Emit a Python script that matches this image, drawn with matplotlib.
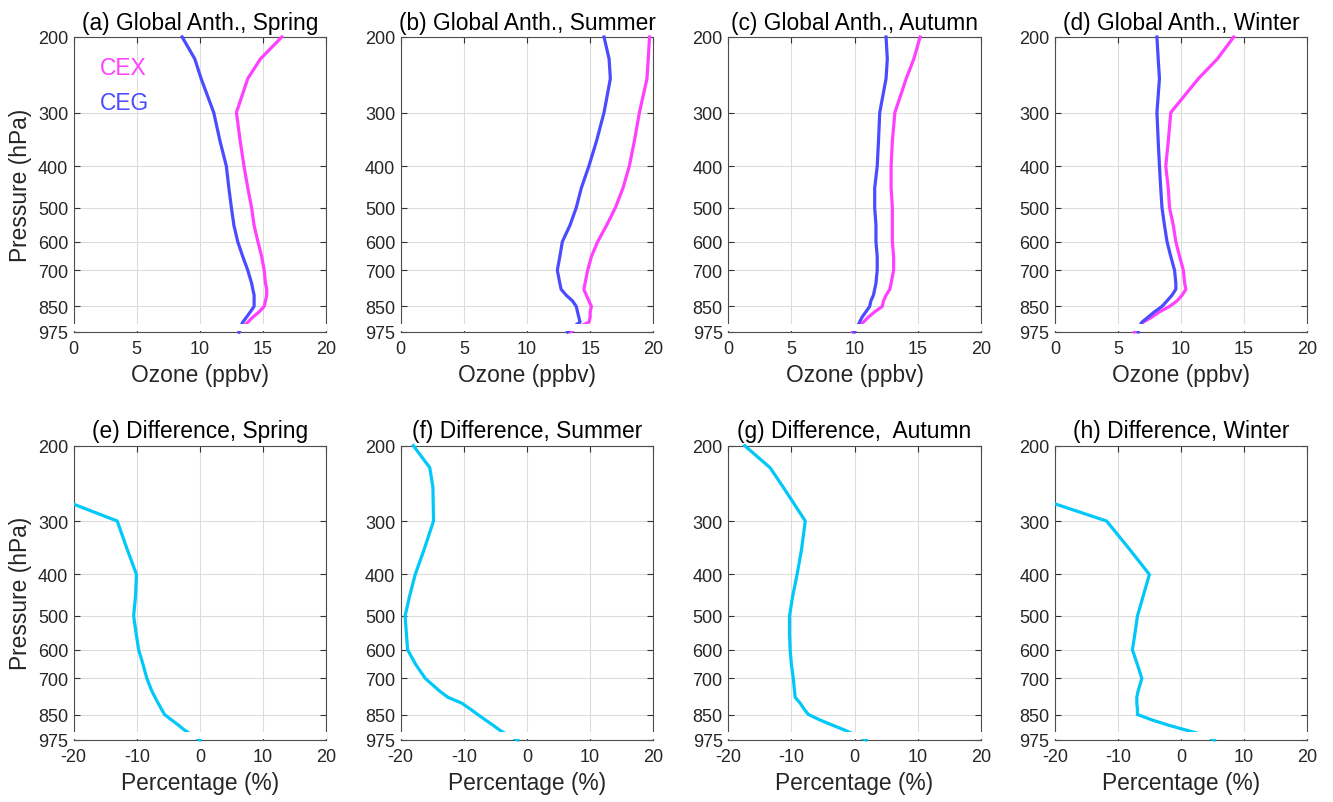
import matplotlib
matplotlib.use("Agg")
import matplotlib.pyplot as plt
from matplotlib.patches import Rectangle

plt.rcParams['font.family'] = ['Liberation Sans', 'DejaVu Sans']

# Pressure levels (hPa)
levels = [200, 225, 250, 300, 350, 400, 450, 500, 550, 600, 650, 700,
          750, 775, 800, 825, 850, 875, 900, 925, 950, 975]

# Ozone (ppbv) from global anthropogenic emissions
cex_spring = [16.5, 14.8, 13.8, 12.9, 13.2, 13.5, 13.8, 14.1, 14.3, 14.6, 14.9, 15.1,
              15.2, 15.3, 15.3, 15.2, 15.1, 14.7, 14.2, 13.8, 13.4, 13.1]
ceg_spring = [8.6, 9.6, 10.1, 11.1, 11.6, 12.1, 12.3, 12.5, 12.7, 13.0, 13.4, 13.8,
              14.1, 14.2, 14.3, 14.3, 14.3, 14.0, 13.7, 13.4, 13.2, 13.1]
cex_summer = [19.7, 19.6, 19.5, 18.9, 18.5, 18.1, 17.6, 17.0, 16.3, 15.6, 15.1, 14.8,
              14.6, 14.5, 14.7, 14.9, 15.1, 15.0, 15.0, 14.9, 14.1, 13.4]
ceg_summer = [16.1, 16.5, 16.6, 16.1, 15.5, 14.9, 14.3, 13.9, 13.4, 12.8, 12.6, 12.4,
              12.6, 12.7, 13.1, 13.6, 13.9, 14.0, 14.1, 14.2, 13.6, 13.2]
cex_autumn = [15.2, 14.7, 14.1, 13.2, 13.0, 12.9, 12.9, 13.0, 13.0, 13.0, 13.1, 13.1,
              12.9, 12.8, 12.5, 12.3, 12.2, 11.6, 11.1, 10.7, 10.3, 9.85]
ceg_autumn = [12.5, 12.6, 12.5, 12.0, 11.9, 11.8, 11.6, 11.6, 11.7, 11.7, 11.8, 11.8,
              11.7, 11.6, 11.5, 11.3, 11.2, 10.9, 10.6, 10.4, 10.2, 10.0]
cex_winter = [14.2, 12.9, 11.4, 9.2, 9.0, 8.8, 9.0, 9.1, 9.4, 9.6, 9.9, 10.2,
              10.3, 10.4, 10.1, 9.7, 9.1, 8.3, 7.7, 7.0, 6.6, 6.3]
ceg_winter = [8.1, 8.2, 8.3, 8.1, 8.2, 8.3, 8.4, 8.5, 8.7, 8.9, 9.2, 9.5,
              9.6, 9.6, 9.3, 8.9, 8.5, 7.9, 7.4, 6.9, 6.7, 6.6]

# Percentage difference (%)
diff_spring = [-40, -33, -27, -13.1, -11.5, -10.05, -10.2, -10.5, -10.1, -9.7, -9.0, -8.4,
               -7.6, -7.1, -6.6, -6.1, -5.6, -4.5, -3.4, -2.4, -1.2, 0.0]
diff_summer = [-18.0, -15.4, -14.9, -14.8, -16.3, -17.7, -18.6, -19.3, -19.1, -18.9, -17.6, -16.1,
               -13.8, -12.5, -10.3, -9.0, -7.8, -6.6, -5.4, -4.3, -3.0, -1.5]
diff_autumn = [-17.4, -13.4, -11.3, -7.8, -8.4, -9.1, -9.8, -10.3, -10.3, -10.2, -10.0, -9.7,
               -9.5, -9.4, -8.6, -8.0, -7.3, -5.5, -3.5, -1.5, 0.2, 1.8]
diff_winter = [-40, -33, -28, -11.8, -8.1, -5.0, -6.0, -6.9, -7.3, -7.7, -6.9, -6.2,
               -6.8, -7.0, -7.0, -6.9, -6.9, -4.6, -2.0, 0.9, 3.8, 5.3]

top_titles = ['(a) Global Anth., Spring', '(b) Global Anth., Summer',
              '(c) Global Anth., Autumn', '(d) Global Anth., Winter']
bot_titles = ['(e) Difference, Spring', '(f) Difference, Summer',
              '(g) Difference,  Autumn', '(h) Difference, Winter']

yticks = [200, 300, 400, 500, 600, 700, 850, 975]
top_xticks = [0, 5, 10, 15, 20]
bot_xticks = [-20, -10, 0, 10, 20]

cex_all = [cex_spring, cex_summer, cex_autumn, cex_winter]
ceg_all = [ceg_spring, ceg_summer, ceg_autumn, ceg_winter]
diff_all = [diff_spring, diff_summer, diff_autumn, diff_winter]

C_CEX = '#FF40FF'
C_CEG = '#4B4BFF'
C_DIFF = '#00C8F8'
TXT = '#262626'

W, H = 1333, 803
fig = plt.figure(figsize=(W / 100, H / 100), dpi=100)

lefts = [73.7, 400.7, 728.3, 1055.0]
widths = [252.3, 252.6, 252.4, 251.7]
rows = [(38.0, 333.0), (446.7, 741.0)]


def style_axes(ax, xticks, xlim):
    ax.set_yscale('log')
    ax.set_ylim(975, 200)
    ax.set_xlim(*xlim)
    ax.set_yticks(yticks)
    ax.set_yticklabels([str(v) for v in yticks])
    ax.yaxis.set_minor_locator(matplotlib.ticker.NullLocator())
    ax.set_xticks(xticks)
    ax.set_xticklabels([str(v) for v in xticks])
    ax.grid(True, color='#DCDCDC', linewidth=0.8)
    ax.set_axisbelow(True)
    ax.tick_params(direction='in', top=True, right=True, length=4,
                   width=0.8, colors='#333333', labelcolor=TXT, labelsize=13)
    ax.tick_params(axis='x', pad=6)
    ax.tick_params(axis='y', pad=4)
    for s in ax.spines.values():
        s.set_color('#4D4D4D')
        s.set_linewidth(0.8)
    # white strip near the bottom of the panel
    ax.add_patch(Rectangle((-0.005, 0.004), 1.01, 0.023, transform=ax.transAxes,
                           facecolor='white', edgecolor='none', zorder=2.7,
                           clip_on=False))


def clip_line(ln, ax):
    clip = Rectangle((0, -0.012), 1, 1.024, transform=ax.transAxes)
    ln.set_clip_path(clip)


for row, (ytop, ybot) in enumerate(rows):
    for col in range(4):
        rect = [lefts[col] / W, 1 - ybot / H, widths[col] / W, (ybot - ytop) / H]
        ax = fig.add_axes(rect)
        if row == 0:
            style_axes(ax, top_xticks, (0, 20))
            l1, = ax.plot(cex_all[col], levels, color=C_CEX, lw=2.3, zorder=2.55)
            l2, = ax.plot(ceg_all[col], levels, color=C_CEG, lw=2.3, zorder=2.6)
            clip_line(l1, ax)
            clip_line(l2, ax)
            ax.set_title(top_titles[col], fontsize=16.4, pad=6, color='black')
            ax.set_xlabel('Ozone (ppbv)', fontsize=16.4, color=TXT, labelpad=4)
            if col == 0:
                ax.text(0.105, 0.895, 'CEX', transform=ax.transAxes, color=C_CEX,
                        fontsize=16.4, ha='left', va='center')
                ax.text(0.105, 0.777, 'CEG', transform=ax.transAxes, color=C_CEG,
                        fontsize=16.4, ha='left', va='center')
        else:
            style_axes(ax, bot_xticks, (-20, 20))
            l3, = ax.plot(diff_all[col], levels, color=C_DIFF, lw=2.3, zorder=2.55)
            clip_line(l3, ax)
            ax.set_title(bot_titles[col], fontsize=16.4, pad=6, color='black')
            ax.set_xlabel('Percentage (%)', fontsize=16.4, color=TXT, labelpad=4)
        if col == 0:
            ax.set_ylabel('Pressure (hPa)', fontsize=16.4, color=TXT, labelpad=4)

fig.savefig('out.png', dpi=100)
